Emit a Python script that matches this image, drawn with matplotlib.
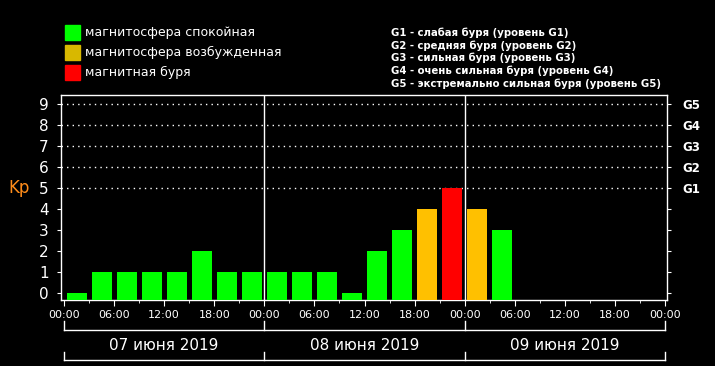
import numpy as np
import matplotlib.pyplot as plt
import matplotlib as mpl
from matplotlib.lines import Line2D

mpl.rcParams["font.family"] = ["DejaVu Sans"]

# данные Kp, интервалы по 3 часа
kp_values = [0, 1, 1, 1, 1, 2, 1, 1,
             1, 1, 1, 0, 2, 3, 4, 5,
             4, 3]
bar_colors = ["#00ff00"] * 14 + ["#ffc000", "#ff0000", "#ffc000", "#00ff00"]
days = ["07 июня 2019", "08 июня 2019", "09 июня 2019"]
hour_ticks = [0, 6, 12, 18, 24, 30, 36, 42, 48, 54, 60, 66, 72]
hour_labels = ["00:00", "06:00", "12:00", "18:00"] * 3 + ["00:00"]
g_levels = ["G1", "G2", "G3", "G4", "G5"]
legend_items = [("магнитосфера спокойная", "#00ff00"),
                ("магнитосфера возбужденная", "#d8b800"),
                ("магнитная буря", "#ff0000")]
g_text = ["G1 - слабая буря (уровень G1)",
          "G2 - средняя буря (уровень G2)",
          "G3 - сильная буря (уровень G3)",
          "G4 - очень сильная буря (уровень G4)",
          "G5 - экстремально сильная буря (уровень G5)"]

W, H = 715, 366
fig = plt.figure(figsize=(W / 100, H / 100), dpi=100, facecolor="black")
ax = fig.add_axes([61 / W, 1 - 300 / H, 606 / W, 205 / H], facecolor="black")

ymin, ymax = -0.32, 9.44
xmin, xmax = -0.36, 72.24
x = np.arange(len(kp_values)) * 3 + 1.5
ax.bar(x, np.array(kp_values) - ymin, bottom=ymin, width=2.4,
       color=bar_colors, edgecolor="none", zorder=3)

# пунктирные линии уровней G
for lv in range(5, 10):
    ax.axhline(lv, color="white", lw=1, ls=(0, (1, 3)), zorder=1)
# границы суток
for d in (24, 48):
    ax.axvline(d, color="white", lw=1, zorder=2)

ax.set_xlim(xmin, xmax)
ax.set_ylim(ymin, ymax)
for s in ax.spines.values():
    s.set_color("white")
    s.set_linewidth(1)

ax.set_yticks(range(10))
ax.tick_params(axis="y", colors="white", length=3, pad=6, labelsize=11,
               left=True, right=False)
ax.set_xticks(hour_ticks)
ax.set_xticklabels(hour_labels)
ax.set_xticks(np.arange(3, 72, 6), minor=True)
ax.tick_params(axis="x", which="major", colors="white", length=4, pad=3,
               labelsize=8)
ax.tick_params(axis="x", which="minor", colors="white", length=2)

ax2 = ax.twinx()
ax2.set_ylim(ymin, ymax)
ax2.set_yticks(range(10))
ax2.set_yticklabels([""] * 5 + g_levels)
ax2.tick_params(axis="y", colors="white", length=3, pad=8, labelsize=8.5)
for lab in ax2.get_yticklabels():
    lab.set_fontweight("bold")
for s in ax2.spines.values():
    s.set_visible(False)

ax.text(-0.07, 5, "Kp", color="#ff8c1a", fontsize=12,
        transform=mpl.transforms.blended_transform_factory(ax.transAxes, ax.transData),
        ha="center", va="center")

# скобки с датами под осью
def px(xp, yp):
    return xp / W, 1 - yp / H

x0, x3 = 64, 665
xd = [x0 + (x3 - x0) * k / 3 for k in range(4)]
for yb, ytop in ((330, 321), (360, 352)):
    fig.add_artist(Line2D([x0 / W, x3 / W], [1 - yb / H] * 2, color="white", lw=1))
    for xv in xd:
        fig.add_artist(Line2D([xv / W] * 2, [1 - yb / H, 1 - ytop / H], color="white", lw=1))
for k, d in enumerate(days):
    fig.text(*px((xd[k] + xd[k + 1]) / 2, 345), d, color="white", fontsize=11,
             ha="center", va="center")

# легенда
for k, (lab, col) in enumerate(legend_items):
    yc = 32.5 + k * 20
    fig.patches.append(mpl.patches.Rectangle(px(65, yc + 7.5), 15 / W, 15 / H,
                                             transform=fig.transFigure,
                                             color=col, figure=fig))
    fig.text(*px(85, yc), lab, color="white", fontsize=9, ha="left", va="center")

for k, t in enumerate(g_text):
    fig.text(*px(391, 33 + k * 12.6), t, color="white", fontsize=7.3,
             fontweight="bold", ha="left", va="center")

fig.savefig("out.png", dpi=100, facecolor="black")
